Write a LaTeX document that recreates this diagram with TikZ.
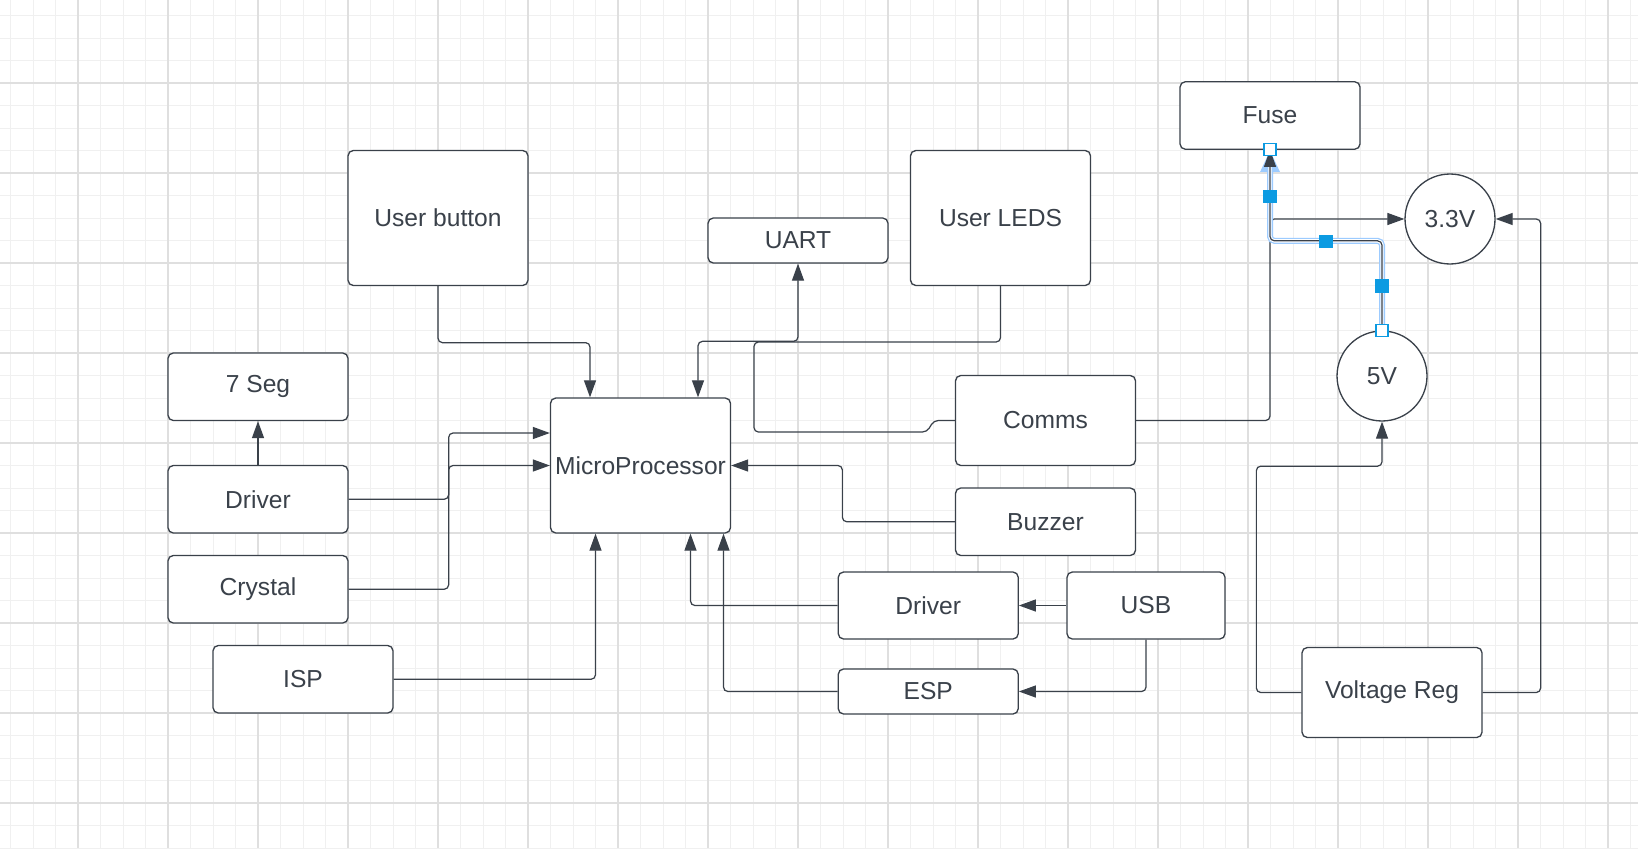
\documentclass[tikz,border=0pt]{standalone}
\usepackage{fontspec}
\setmainfont{Liberation Sans}
\usepackage{xcolor}
\usetikzlibrary{arrows.meta,calc}
\definecolor{slate}{HTML}{3A414A}
\definecolor{gridminor}{HTML}{F0F0F0}
\definecolor{gridmajor}{HTML}{DFDFDF}
\definecolor{selblue}{HTML}{9CCBFF}
\definecolor{handleblue}{HTML}{0C9BE2}

\begin{document}
\begin{tikzpicture}[
  x=0.02cm, y=-0.02cm,
  every node/.style={rectangle, align=center, text=slate, font=\fontsize{14}{16}\selectfont},
  block/.style={draw=slate, fill=white, line width=0.75pt, rounded corners=3pt, inner sep=1pt, minimum width=3.6cm},
  volt/.style={circle, draw=slate, fill=white, line width=0.75pt, minimum size=1.8cm, inner sep=0pt},
  wire/.style={line width=0.7pt, slate, rounded corners=2.5pt},
  arrow/.style={wire, -{Triangle[length=0.34cm, width=0.24cm]}},
  biarrow/.style={wire, {Triangle[length=0.34cm, width=0.24cm]}-{Triangle[length=0.34cm, width=0.24cm]}},
  handle/.style={minimum size=0.24cm, inner sep=0pt, line width=0.6pt, draw=handleblue}
]
\useasboundingbox (0,0) rectangle (1638,848);

%% Background grid
\fill[white] (0,0) rectangle (1638,848);
\foreach \gx in {10.5,33,...,1638} \draw[gridminor, line width=0.55pt] (\gx,0) -- (\gx,848);
\foreach \gy in {15.5,38,...,848} \draw[gridminor, line width=0.55pt] (0,\gy) -- (1638,\gy);
\foreach \gx in {78,168,...,1638} \draw[gridmajor, line width=0.85pt] (\gx,0) -- (\gx,848);
\foreach \gy in {83,173,...,848} \draw[gridmajor, line width=0.85pt] (0,\gy) -- (1638,\gy);

%% Left column
\node[block, minimum height=1.35cm] (seg) at (258,386.75) {7 Seg};
\node[block, minimum height=1.35cm] (drvL) at (258,499.25) {Driver};
\node[block, minimum height=1.35cm] (xtal) at (258,589.25) {Crystal};
\node[block, minimum height=1.35cm] (isp) at (303,679.25) {ISP};

%% Top row
\node[block, minimum height=2.7cm] (ubtn) at (438,218) {User button};
\node[block, minimum height=0.9cm] (uart) at (798,240.5) {UART};
\node[block, minimum height=2.7cm] (leds) at (1000.5,218) {User LEDS};

%% Processor
\node[block, minimum height=2.7cm] (mcu) at (640.5,465.5) {MicroProcessor};

%% Right of processor
\node[block, minimum height=1.8cm] (comms) at (1045.5,420.5) {Comms};
\node[block, minimum height=1.35cm] (buzz) at (1045.5,521.75) {Buzzer};
\node[block, minimum height=1.34cm] (drvR) at (928.25,605.5) {Driver};
\node[block, minimum height=0.9cm] (esp) at (928.25,691.5) {ESP};
\node[block, minimum height=1.34cm, minimum width=3.16cm] (usb) at (1146,605.5) {USB};

%% Power
\node[block, minimum height=1.35cm] (fuse) at (1270,115.5) {Fuse};
\node[volt] (v33) at (1450,219) {3.3V};
\node[volt] (v5) at (1382,376) {5V};
\node[block, minimum height=1.8cm] (vreg) at (1392,692.5) {Voltage Reg};

%% Arrows -- left column into processor
\draw[arrow] (drvL.north) -- (seg.south);
\draw[arrow] (drvL.east) -- ++(100,0) |- (mcu.west);
\draw[arrow] (xtal.east) -- ++(100,0) |- ($(mcu.west)+(0,-32.5)$);
\draw[arrow] (isp.east) -| ($(mcu.south)+(-45,0)$);

%% Arrows -- top row
\draw[arrow] (ubtn.south) -- ++(0,56.5) -| ($(mcu.north)+(-50.5,0)$);
\draw[biarrow] ($(mcu.north)+(57.5,0)$) -- ++(0,-56) -| (uart.south);
\draw[wire] (comms.west) -- ++(-21,0) -- ++(-7,11.5) -| (754,342) -| (leds.south);

%% Arrows -- right side into processor
\draw[arrow] (buzz.west) -- ++(-112.5,0) |- (mcu.east);
\draw[arrow] (drvR.west) -| ($(mcu.south)+(50,0)$);
\draw[arrow] (esp.west) -| ($(mcu.south)+(83,0)$);
\draw[arrow] (usb.west) -- (drvR.east);
\draw[arrow] (usb.south) |- (esp.east);

%% Power connections
\draw[arrow] (comms.east) -| (fuse.south |- v33.west) -- (v33.west);
\draw[arrow] (vreg.west) -- ++(-45,0) |- ($(v5.south)+(0,44.5)$) -- (v5.south);
\draw[arrow] (vreg.east) -- ++(58,0) |- (v33.east);

% selected connector, 5V up to Fuse
\draw[selblue, line width=3.4pt, rounded corners=2.5pt, -{Triangle[length=0.44cm, width=0.36cm]}] (v5.north) -- ++(0,-89.5) -| (fuse.south);
\draw[white, line width=1.9pt, rounded corners=2.5pt] (v5.north) -- ++(0,-89.5) -| (fuse.south);
\draw[arrow] (v5.north) -- ++(0,-89.5) -| (fuse.south);
\node[handle, fill=white] (hfuse) at (fuse.south) {};
\node[handle, fill=handleblue] (hmidA) at (1270,196.5) {};
\node[handle, fill=handleblue] (hmidB) at (1326,241.5) {};
\node[handle, fill=handleblue] (hmidC) at (1382,286) {};
\node[handle, fill=white] (hvfive) at (v5.north) {};

\end{tikzpicture}
\end{document}
